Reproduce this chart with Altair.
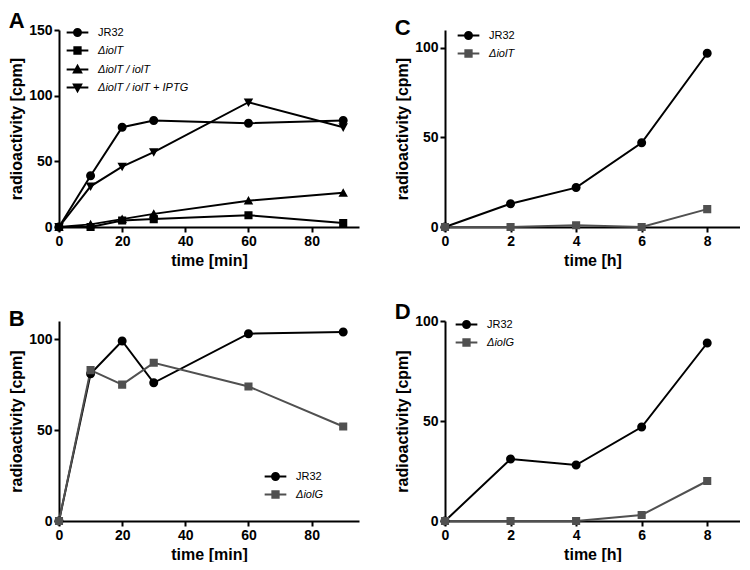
import altair as alt
import pandas as pd

# ---------------- data ----------------
A_time = [0, 10, 20, 30, 60, 90]
A_JR32 = [0, 39, 76, 81, 79, 81]
A_dT = [0, 0, 5, 6, 9, 3]
A_dT_T = [0, 2, 6, 10, 20, 26]
A_dT_T_IPTG = [0, 31, 46, 57, 95, 76]

B_time = [0, 10, 20, 30, 60, 90]
B_JR32 = [0, 81, 99, 76, 103, 104]
B_dG = [0, 83, 75, 87, 74, 52]

C_time = [0, 2, 4, 6, 8]
C_JR32 = [0, 13, 22, 47, 97]
C_dT = [0, 0, 1, 0, 10]

D_time = [0, 2, 4, 6, 8]
D_JR32 = [0, 31, 28, 47, 89]
D_dG = [0, 0, 0, 3, 20]

A_names = ["JR32", "ΔiolT", "ΔiolT / iolT", "ΔiolT / iolT + IPTG"]
B_names = ["JR32", "ΔiolG"]
C_names = ["JR32", "ΔiolT"]
D_names = ["JR32", "ΔiolG"]

BLACK = "#000000"
GREY = "#505050"

LINE = "M-3.1,0H3.1"
CIRCLE = "M-1,0A1,1,0,1,0,1,0A1,1,0,1,0,-1,0Z" + LINE
SQUARE = "M-0.9,-0.9H0.9V0.9H-0.9Z" + LINE
TRI_UP = "M0,-1.05L1.05,0.85H-1.05Z" + LINE
TRI_DN = "M0,1.05L1.05,-0.85H-1.05Z" + LINE

FONT = "Liberation Sans"


def make_df(time, series_list, names):
    rows = []
    for name, vals in zip(names, series_list):
        for t, v in zip(time, vals):
            rows.append({"time": t, "value": v, "series": name})
    return pd.DataFrame(rows)


def panel(letter, df, names, colors, shapes, xdom, xvals, xtitle,
          ydom, yvals, width, height, legx, legy):
    x = alt.X("time:Q", scale=alt.Scale(domain=xdom, nice=False, zero=False),
              axis=alt.Axis(values=xvals, title=xtitle, format="d"))
    y = alt.Y("value:Q", scale=alt.Scale(domain=ydom, nice=False),
              axis=alt.Axis(values=yvals, title="radioactivity [cpm]", format="d"))
    cscale = alt.Scale(domain=names, range=colors)
    sscale = alt.Scale(domain=names, range=shapes)
    leg = alt.Legend(
        title=None, orient="none", legendX=legx, legendY=legy,
        symbolSize=49, symbolStrokeWidth=2, symbolOpacity=1,
        labelFont=FONT, labelFontSize=11, labelColor="black",
        labelFontWeight="normal",
        labelFontStyle=alt.ExprRef(expr="datum.label == 'JR32' ? 'normal' : 'italic'"),
        labelOffset=15, rowPadding=3, padding=0, labelLimit=300,
    )
    base = alt.Chart(df)
    lines = base.mark_line(strokeWidth=2).encode(
        x=x, y=y,
        color=alt.Color("series:N", scale=cscale, legend=leg),
    )
    points = base.mark_point(filled=True, opacity=1, size=81, strokeWidth=0).encode(
        x=x, y=y,
        color=alt.Color("series:N", scale=cscale, legend=leg),
        stroke=alt.Stroke("series:N", scale=cscale, legend=leg),
        shape=alt.Shape("series:N", scale=sscale, legend=leg),
    )
    return alt.layer(lines, points).properties(
        width=width, height=height,
        title=alt.TitleParams(letter, anchor="start", frame="bounds",
                              fontSize=22, fontWeight="bold", font=FONT,
                              color="black", offset=-10),
    )


dfA = make_df(A_time, [A_JR32, A_dT, A_dT_T, A_dT_T_IPTG], A_names)
dfB = make_df(B_time, [B_JR32, B_dG], B_names)
dfC = make_df(C_time, [C_JR32, C_dT], C_names)
dfD = make_df(D_time, [D_JR32, D_dG], D_names)

pA = panel("A", dfA, A_names, [BLACK] * 4, [CIRCLE, SQUARE, TRI_UP, TRI_DN],
           [0, 95], [0, 20, 40, 60, 80], "time [min]",
           [0, 150], [0, 50, 100, 150], 300, 197, 13, -3)
pB = panel("B", dfB, B_names, [BLACK, GREY], [CIRCLE, SQUARE],
           [0, 95], [0, 20, 40, 60, 80], "time [min]",
           [0, 110], [0, 50, 100], 300, 200, 211, 150)
pC = panel("C", dfC, C_names, [BLACK, GREY], [CIRCLE, SQUARE],
           [0, 9], [0, 2, 4, 6, 8], "time [h]",
           [0, 110], [0, 50, 100], 295, 197, 18, 0)
pD = panel("D", dfD, D_names, [BLACK, GREY], [CIRCLE, SQUARE],
           [0, 9], [0, 2, 4, 6, 8], "time [h]",
           [0, 100], [0, 50, 100], 295, 200, 16, -2)

indep = dict(color="independent", stroke="independent", shape="independent")

chart = alt.vconcat(
    alt.hconcat(pA, pC, spacing=35).resolve_scale(**indep),
    alt.hconcat(pB, pD, spacing=35).resolve_scale(**indep),
    spacing=33,
).resolve_scale(**indep).properties(
    padding={"left": 0, "top": 2, "right": 0, "bottom": 0}
).configure(
    font=FONT
).configure_axis(
    domainColor="black", domainWidth=2, tickColor="black", tickWidth=2,
    tickSize=5, labelFont=FONT, labelFontSize=14, labelFontWeight="bold",
    labelColor="black", titleFont=FONT, titleFontSize=16, titleFontWeight="bold",
    titleColor="black", grid=False, labelPadding=2, titlePadding=4,
    labelFlush=False,
).configure_legend(
    labelFontWeight="normal", labelFont=FONT, labelFontSize=11
).configure_view(stroke=None)

chart.save("out.html", embed_options={"renderer": "svg", "actions": False})
